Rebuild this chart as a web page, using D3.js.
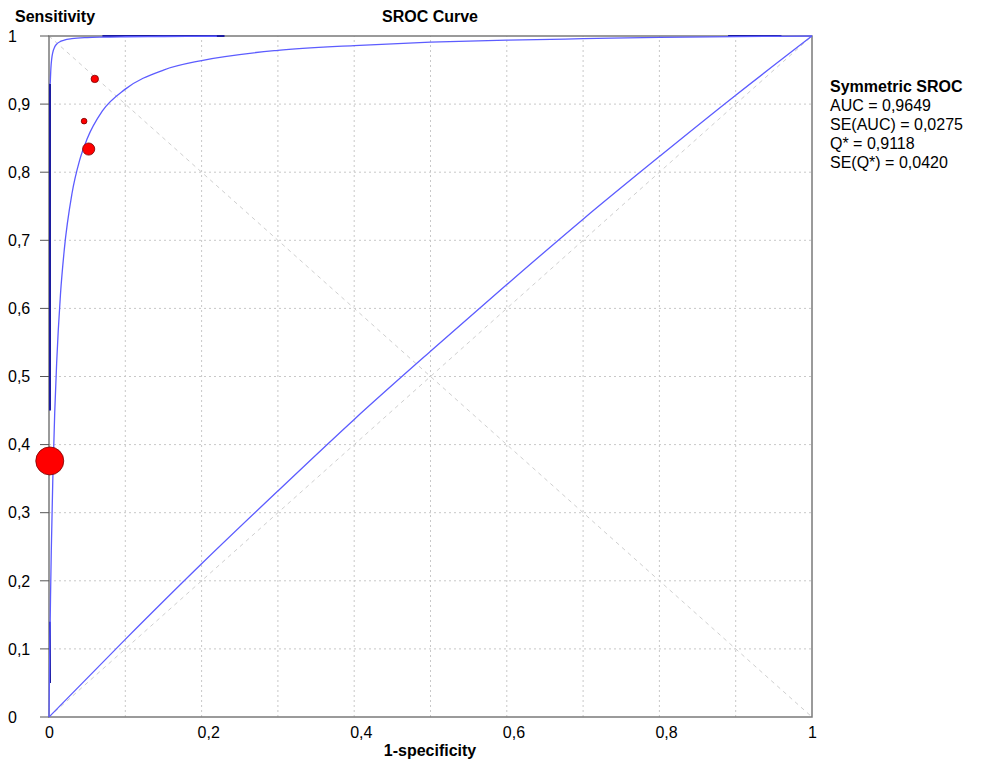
<!DOCTYPE html>
<html>
<head>
<meta charset="utf-8">
<script src="https://cdn.jsdelivr.net/npm/d3@7"></script>
<style>
  body { margin: 0; background: #fff; }
  text { font-family: "Liberation Sans", Arial, sans-serif; }
</style>
</head>
<body>
<div id="chart"></div>
<script>
// symmetric SROC curve
var srocFpr = [0, 0.0005, 0.001, 0.002, 0.003, 0.005, 0.0075, 0.01, 0.015, 0.02, 0.03, 0.04, 0.05, 0.07, 0.1, 0.15, 0.2, 0.3, 0.4, 0.5, 0.6, 0.7, 0.8, 0.9, 1];
var srocTpr = [0, 0.051, 0.097, 0.177, 0.244, 0.35, 0.447, 0.519, 0.62, 0.686, 0.768, 0.817, 0.849, 0.89, 0.922, 0.95, 0.964, 0.979, 0.986, 0.991, 0.994, 0.996, 0.998, 0.999, 1];

// upper curve in the corner
var upperFpr = [0.0016, 0.0025, 0.0035, 0.005, 0.0075, 0.01, 0.015, 0.02, 0.03, 0.05, 0.07, 0.1, 0.15, 0.22];
var upperTpr = [0.93, 0.953, 0.966, 0.976, 0.984, 0.988, 0.992, 0.994, 0.996, 0.9977, 0.9984, 0.9989, 0.9993, 0.9996];

// lower curve near the diagonal
var lowerFpr = [0, 0.1, 0.2, 0.3, 0.4, 0.5, 0.6, 0.7, 0.8, 0.9, 1];
var lowerTpr = [0, 0.114, 0.225, 0.332, 0.437, 0.537, 0.635, 0.731, 0.823, 0.913, 1];

// dark segments along the edges
var edgeSegs = [
  [[0, 0.05], [0, 0.14]],
  [[0, 0.45], [0, 0.93]],
  [[0.07, 1], [0.23, 1]],
  [[0.89, 1], [0.96, 1]]
];

// studies: 1-specificity, sensitivity, weight
var studyFpr = [0.06, 0.046, 0.052, 0.001];
var studyTpr = [0.937, 0.875, 0.834, 0.376];
var studyW   = [1.2, 0.7, 3.2, 17];

var ticks = [0, 0.1, 0.2, 0.3, 0.4, 0.5, 0.6, 0.7, 0.8, 0.9, 1];
var xTicks = [0, 0.2, 0.4, 0.6, 0.8, 1];
var xTickLabels = ["0", "0,2", "0,4", "0,6", "0,8", "1"];
var yTickLabels = ["0", "0,1", "0,2", "0,3", "0,4", "0,5", "0,6", "0,7", "0,8", "0,9", "1"];
var statLines = ["AUC = 0,9649", "SE(AUC) = 0,0275", "Q* = 0,9118", "SE(Q*) = 0,0420"];

var width = 981, height = 761;
var x = d3.scaleLinear().domain([0, 1]).range([49, 812]);
var y = d3.scaleLinear().domain([0, 1]).range([717, 36]);
var r = d3.scaleSqrt().domain([0, 17]).range([0, 14]);

var svg = d3.select("#chart").append("svg")
    .attr("width", width)
    .attr("height", height);

// grid
var inner = ticks.slice(1, -1);
svg.append("g").selectAll("line.gx")
    .data(inner).enter().append("line")
    .attr("x1", function(d) { return x(d); }).attr("x2", function(d) { return x(d); })
    .attr("y1", y(0)).attr("y2", y(1))
    .attr("stroke", "#c8c8c8").attr("stroke-dasharray", "2,3");
svg.append("g").selectAll("line.gy")
    .data(inner).enter().append("line")
    .attr("x1", x(0)).attr("x2", x(1))
    .attr("y1", function(d) { return y(d); }).attr("y2", function(d) { return y(d); })
    .attr("stroke", "#c8c8c8").attr("stroke-dasharray", "2,3");

// diagonals
svg.append("line")
    .attr("x1", x(0)).attr("y1", y(0)).attr("x2", x(1)).attr("y2", y(1))
    .attr("stroke", "#cfcfcf").attr("stroke-dasharray", "4,4");
svg.append("line")
    .attr("x1", x(0)).attr("y1", y(1)).attr("x2", x(1)).attr("y2", y(0))
    .attr("stroke", "#cfcfcf").attr("stroke-dasharray", "4,4");

// frame
svg.append("rect")
    .attr("x", x(0)).attr("y", y(1))
    .attr("width", x(1) - x(0)).attr("height", y(0) - y(1))
    .attr("fill", "none").attr("stroke", "#7a7a7a").attr("stroke-width", 1.5);

// y ticks
svg.append("g").selectAll("line")
    .data(ticks).enter().append("line")
    .attr("x1", x(0) - 9).attr("x2", x(0))
    .attr("y1", function(d) { return y(d); }).attr("y2", function(d) { return y(d); })
    .attr("stroke", "#555");

svg.append("g").selectAll("text")
    .data(ticks).enter().append("text")
    .attr("x", 8)
    .attr("y", function(d) { return y(d); })
    .attr("dy", "0.36em")
    .attr("font-size", 16)
    .text(function(d, i) { return yTickLabels[i]; });

svg.append("g").selectAll("text")
    .data(xTicks).enter().append("text")
    .attr("x", function(d) { return x(d) - 4; })
    .attr("y", 738)
    .attr("font-size", 16)
    .text(function(d, i) { return xTickLabels[i]; });

// edge segments
svg.append("g").selectAll("line")
    .data(edgeSegs).enter().append("line")
    .attr("x1", function(d) { return x(d[0][0]) + (d[0][0] === 0 ? 1 : 0); })
    .attr("y1", function(d) { return y(d[0][1]); })
    .attr("x2", function(d) { return x(d[1][0]) + (d[1][0] === 0 ? 1 : 0); })
    .attr("y2", function(d) { return y(d[1][1]); })
    .attr("stroke", "#1c1ca0").attr("stroke-width", 2);

var line = d3.line()
    .x(function(d) { return x(d[0]); })
    .y(function(d) { return y(d[1]); })
    .curve(d3.curveMonotoneX);

function pairs(a, b) { return a.map(function(v, i) { return [v, b[i]]; }); }

[pairs(lowerFpr, lowerTpr), pairs(upperFpr, upperTpr), pairs(srocFpr, srocTpr)].forEach(function(pts) {
  svg.append("path")
      .datum(pts)
      .attr("d", line)
      .attr("fill", "none")
      .attr("stroke", "#5c5cff")
      .attr("stroke-width", 1.3);
});

// studies
var studies = studyFpr.map(function(v, i) { return { fpr: v, tpr: studyTpr[i], w: studyW[i] }; });
studies.sort(function(a, b) { return b.w - a.w; });
svg.append("g").selectAll("circle")
    .data(studies).enter().append("circle")
    .attr("cx", function(d) { return x(d.fpr); })
    .attr("cy", function(d) { return y(d.tpr); })
    .attr("r", function(d) { return r(d.w); })
    .attr("fill", "#ff0000")
    .attr("stroke", "#7a0000")
    .attr("stroke-width", 0.8);

// titles
svg.append("text").attr("x", 15).attr("y", 22)
    .attr("font-size", 16).attr("font-weight", "bold").text("Sensitivity");
svg.append("text").attr("x", 430).attr("y", 22).attr("text-anchor", "middle")
    .attr("font-size", 16).attr("font-weight", "bold").text("SROC Curve");
svg.append("text").attr("x", 430).attr("y", 756).attr("text-anchor", "middle")
    .attr("font-size", 16).attr("font-weight", "bold").text("1-specificity");

// stats box
svg.append("text").attr("x", 830).attr("y", 92)
    .attr("font-size", 16).attr("font-weight", "bold").text("Symmetric SROC");
svg.append("g").selectAll("text")
    .data(statLines).enter().append("text")
    .attr("x", 830)
    .attr("y", function(d, i) { return 111 + i * 19; })
    .attr("font-size", 16)
    .text(function(d) { return d; });
</script>
</body>
</html>
